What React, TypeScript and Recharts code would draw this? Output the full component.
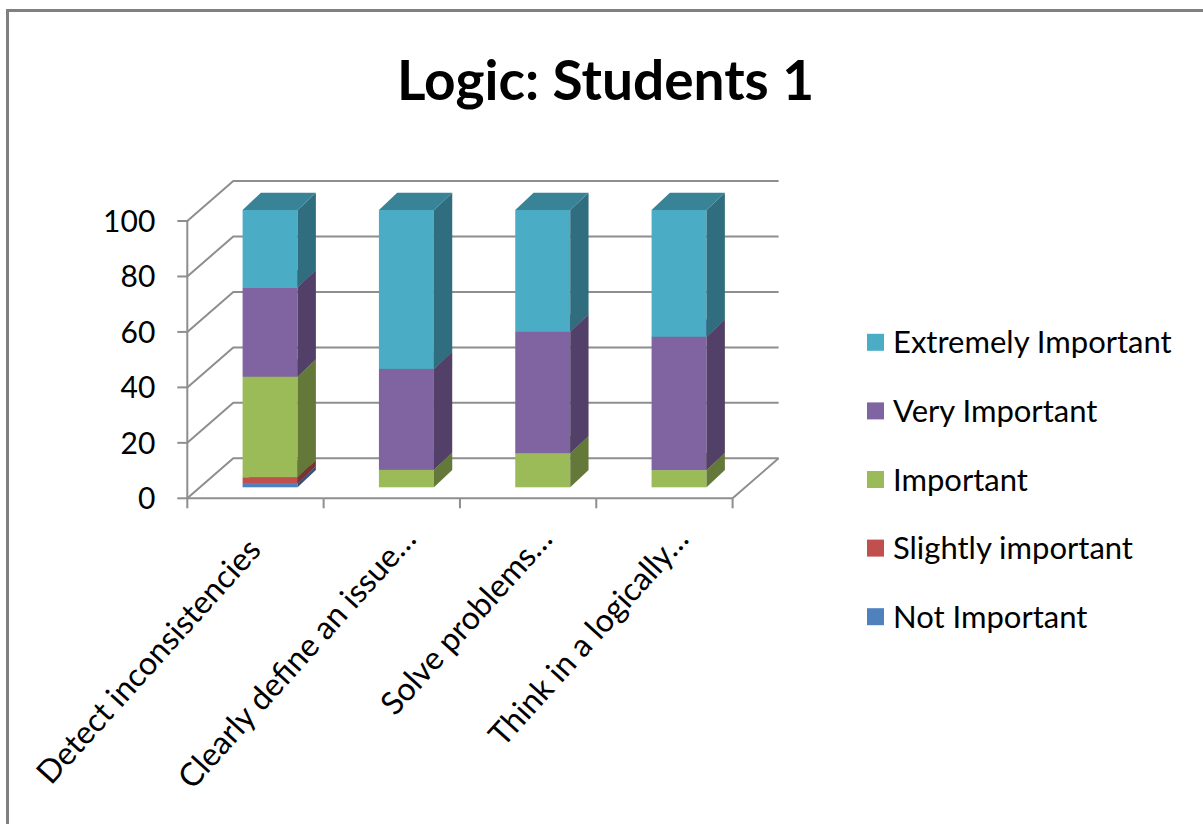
import React from 'react';
import { BarChart, Bar, XAxis, YAxis, CartesianGrid } from 'recharts';

// ---- data ----
const CATEGORIES = [
  'Detect inconsistencies',
  'Clearly define an issue…',
  'Solve problems…',
  'Think in a logically…',
];
const NOT_IMPORTANT = [1.4, 0, 0, 0];
const SLIGHTLY_IMPORTANT = [2.2, 0, 0, 0];
const IMPORTANT = [36.3, 6.3, 12.3, 6.2];
const VERY_IMPORTANT = [32.2, 36.4, 43.8, 48.1];
const EXTREMELY_IMPORTANT = [27.9, 57.3, 43.9, 45.7];
const Y_TICKS = [0, 20, 40, 60, 80, 100];
const TITLE = 'Logic: Students 1';

// series in stacking order (bottom to top)
const SERIES = [
  { key: 'not', name: 'Not Important', values: NOT_IMPORTANT, color: '#4F81BD' },
  { key: 'slightly', name: 'Slightly important', values: SLIGHTLY_IMPORTANT, color: '#C0504D' },
  { key: 'important', name: 'Important', values: IMPORTANT, color: '#9BBB59' },
  { key: 'very', name: 'Very Important', values: VERY_IMPORTANT, color: '#8064A2' },
  { key: 'extremely', name: 'Extremely Important', values: EXTREMELY_IMPORTANT, color: '#4BACC6' },
];

const rows = CATEGORIES.map((name, i) => {
  const row: Record<string, string | number> = { name };
  SERIES.forEach((s) => {
    row[s.key] = s.values[i];
  });
  return row;
});

// ---- layout ----
const W = 1203;
const H = 824;
const FONT = 'Lato, "Open Sans", sans-serif';
// plot area is the plane the column fronts sit on
const PLOT_LEFT = 201.7;
const PLOT_RIGHT = 747;
const PLOT_TOP = 210;
const PLOT_BOTTOM = 487.3;
const PLOT_H = PLOT_BOTTOM - PLOT_TOP;
const PLOT_W = PLOT_RIGHT - PLOT_LEFT;
const Y_AXIS_W = 60;
const X_AXIS_H = 40;
// offset from the column plane to the front edge of the floor / side wall
const FX = 14.4;
const FY = 11;
// depth of the floor (front edge to back wall)
const WDX = 46;
const WDY = 40;
// depth of a column
const BDX = 18.3;
const BDY = 17.3;
const GRID = '#8E8E8E';
const BAND = PLOT_W / CATEGORIES.length;
const LABEL_ANGLE = -48;

function shade(hex: string, f: number) {
  const n = parseInt(hex.slice(1), 16);
  const r = Math.round(((n >> 16) & 255) * f);
  const g = Math.round(((n >> 8) & 255) * f);
  const b = Math.round((n & 255) * f);
  return `rgb(${r},${g},${b})`;
}

function Column3D(props: any) {
  const { x, y, width, height, fill } = props;
  if (!(height > 0.01) || !(width > 0)) return <g />;
  const x2 = x + width;
  const y2 = y + height;
  return (
    <g>
      <rect x={x} y={y} width={width} height={height} fill={fill} />
      <polygon
        points={`${x2},${y2} ${x2 + BDX},${y2 - BDY} ${x2 + BDX},${y - BDY} ${x2},${y}`}
        fill={shade(fill, 0.64)}
      />
      <polygon
        points={`${x},${y} ${x + BDX},${y - BDY} ${x2 + BDX},${y - BDY} ${x2},${y}`}
        fill={shade(fill, 0.76)}
      />
    </g>
  );
}

// each horizontal grid line runs along the side wall and the back wall
function WallLine(props: any) {
  const { x1, x2, y1 } = props;
  const fx = x1 - FX;
  const fy = y1 + FY;
  return (
    <polyline
      key={props.key ?? `wall-${y1}`}
      points={`${fx},${fy} ${fx + WDX},${fy - WDY} ${x2 - FX + WDX},${fy - WDY}`}
      fill="none"
      stroke={GRID}
      strokeWidth={2}
    />
  );
}

function YTick(props: any) {
  const { y, payload } = props;
  const ax = PLOT_LEFT - FX;
  const yy = y + FY;
  return (
    <g>
      {payload.value === 0 && (
        <line x1={ax} y1={yy} x2={ax} y2={yy - PLOT_H} stroke={GRID} strokeWidth={2} />
      )}
      <line x1={ax - 10} y1={yy} x2={ax} y2={yy} stroke={GRID} strokeWidth={2} />
      <text
        x={ax - 32}
        y={yy}
        dy="0.36em"
        textAnchor="end"
        fontFamily={FONT}
        fontSize={30}
        fill="#000"
      >
        {payload.value}
      </text>
    </g>
  );
}

function XTick(props: any) {
  const { x, payload, index } = props;
  const cx = x - FX;
  const fy = PLOT_BOTTOM + FY;
  const left = cx - BAND / 2;
  const right = cx + BAND / 2;
  const last = index === CATEGORIES.length - 1;
  const label = String(payload.value);
  // shortened labels end a little further right and higher
  const short = label.endsWith('…');
  const lx = cx + (short ? 26 : 7);
  const ly = fy + (short ? 42 : 53);
  return (
    <g>
      <line x1={left} y1={fy} x2={right} y2={fy} stroke={GRID} strokeWidth={2} />
      <line x1={left} y1={fy} x2={left} y2={fy + 10} stroke={GRID} strokeWidth={2} />
      {last && (
        <>
          <line x1={right} y1={fy} x2={right} y2={fy + 10} stroke={GRID} strokeWidth={2} />
          <line x1={right} y1={fy} x2={right + WDX} y2={fy - WDY} stroke={GRID} strokeWidth={2} />
        </>
      )}
      <text
        x={lx}
        y={ly}
        textAnchor="end"
        transform={`rotate(${LABEL_ANGLE} ${lx} ${ly})`}
        fontFamily={FONT}
        fontSize={32}
        fill="#000"
      >
        {label}
      </text>
    </g>
  );
}

function LegendBox() {
  const items = [...SERIES].reverse();
  return (
    <g>
      {items.map((s, i) => {
        const cy = 342.3 + i * 68.6;
        return (
          <g key={s.key}>
            <rect x={867} y={cy - 8.5} width={17} height={17} fill={s.color} />
            <text x={893} y={cy} dy="0.36em" fontFamily={FONT} fontSize={31} fill="#000">
              {s.name}
            </text>
          </g>
        );
      })}
    </g>
  );
}

export default function App() {
  return (
    <div
      style={{
        position: 'absolute',
        left: 0,
        top: 0,
        width: W,
        height: H,
        background: '#fff',
        overflow: 'hidden',
      }}
    >
      <style>{'body{margin:0;overflow:hidden;}'}</style>
      <div
        style={{
          position: 'absolute',
          left: 6,
          top: 9,
          width: W + 40,
          height: H + 40,
          borderLeft: '3px solid #808080',
          borderTop: '3px solid #808080',
          boxSizing: 'border-box',
        }}
      />
      <div style={{ position: 'absolute', left: 0, top: 0 }}>
        <BarChart
          width={W}
          height={H}
          data={rows}
          margin={{
            top: PLOT_TOP,
            left: PLOT_LEFT - Y_AXIS_W,
            right: W - PLOT_RIGHT,
            bottom: H - PLOT_BOTTOM - X_AXIS_H,
          }}
          barCategoryGap="30%"
        >
          <CartesianGrid vertical={false} horizontal={(p: any) => <WallLine {...p} />} />
          <XAxis
            dataKey="name"
            height={X_AXIS_H}
            axisLine={false}
            tickLine={false}
            interval={0}
            tick={(p: any) => <XTick {...p} />}
          />
          <YAxis
            width={Y_AXIS_W}
            domain={[0, 100]}
            ticks={Y_TICKS}
            axisLine={false}
            tickLine={false}
            tick={(p: any) => <YTick {...p} />}
          />
          {SERIES.map((s) => (
            <Bar
              key={s.key}
              dataKey={s.key}
              name={s.name}
              stackId="a"
              fill={s.color}
              isAnimationActive={false}
              shape={(p: any) => <Column3D {...p} />}
            />
          ))}
        </BarChart>
      </div>
      <svg
        width={W}
        height={H}
        style={{ position: 'absolute', left: 0, top: 0, pointerEvents: 'none' }}
      >
        <text
          x={605.5}
          y={100}
          textAnchor="middle"
          fontFamily={FONT}
          fontWeight={700}
          fontSize={55}
          fill="#000"
        >
          {TITLE}
        </text>
        <LegendBox />
      </svg>
    </div>
  );
}
